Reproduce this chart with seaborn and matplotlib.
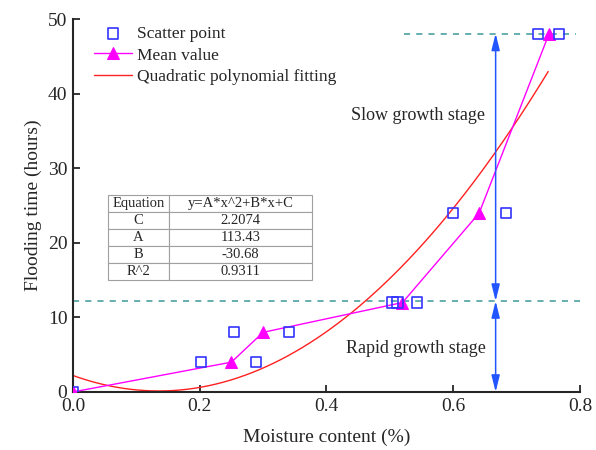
import numpy as np
import pandas as pd
import seaborn as sns
import matplotlib.pyplot as plt

# scatter points
scatter_x = [0.0, 0.202, 0.254, 0.289, 0.341, 0.504, 0.512, 0.543, 0.600, 0.683, 0.734, 0.767]
scatter_y = [0, 4, 8, 4, 8, 12, 12, 12, 24, 24, 48, 48]

# mean values
mean_x = [0.0, 0.250, 0.300, 0.520, 0.641, 0.751]
mean_y = [0, 4, 8, 12, 24, 48]

# quadratic fit coefficients (from the table in the chart)
coef_A = 113.43
coef_B = -30.68
coef_C = 2.2074
r_squared = 0.9311
fit_range = (0.0, 0.75)

table_rows = [["Equation", "y=A*x^2+B*x+C"],
              ["C", "2.2074"],
              ["A", "113.43"],
              ["B", "-30.68"],
              ["R^2", "0.9311"]]

# stage boundaries
slow_level = 48.1
rapid_level = 12.2
arrow_x = 0.667

sns.set_style("ticks")
plt.rcParams["font.family"] = ["Liberation Serif", "DejaVu Serif"]

fig, ax = plt.subplots(figsize=(5.96, 4.5), dpi=100)
fig.subplots_adjust(left=0.1225, right=0.973, bottom=0.129, top=0.957)

df_sc = pd.DataFrame({"x": scatter_x, "y": scatter_y})
df_mean = pd.DataFrame({"x": mean_x, "y": mean_y})
fit_x = np.linspace(fit_range[0], fit_range[1], 200)
df_fit = pd.DataFrame({"x": fit_x, "y": coef_A * fit_x**2 + coef_B * fit_x + coef_C})

# dashed stage lines
ax.plot([0.0, 0.80], [rapid_level, rapid_level], ls=(0, (4, 4)), color="#3d9999", lw=1.1, zorder=1)
ax.plot([0.522, 0.794], [slow_level, slow_level], ls=(0, (4, 4)), color="#3d9999", lw=1.1, zorder=1)

sns.lineplot(data=df_fit, x="x", y="y", ax=ax, color="#ff2020", lw=1.0,
             label="Quadratic polynomial fitting", zorder=2)
sns.lineplot(data=df_mean, x="x", y="y", ax=ax, color="#ff00ff", lw=1.0, marker="^",
             markersize=9, markeredgecolor="#ff00ff", label="Mean value", zorder=3)
sns.scatterplot(data=df_sc, x="x", y="y", ax=ax, marker="s", s=55, facecolors="none",
                edgecolor="#3333ff", linewidth=1.2, label="Scatter point", zorder=4)

# double arrows
arrow_style = dict(arrowstyle="<|-|>,head_length=1.0,head_width=0.25", color="#2255ff",
                   lw=1.1, shrinkA=0, shrinkB=0)
ax.annotate("", xy=(arrow_x, slow_level), xytext=(arrow_x, rapid_level), arrowprops=arrow_style)
ax.annotate("", xy=(arrow_x, rapid_level), xytext=(arrow_x, 0), arrowprops=arrow_style)

ax.text(0.545, 37.1, "Slow growth stage", ha="center", va="center", fontsize=13)
ax.text(0.541, 5.8, "Rapid growth stage", ha="center", va="center", fontsize=13)

# coefficient table
tbl = ax.table(cellText=table_rows, cellLoc="center", colWidths=[0.3, 0.7],
               bbox=[0.069, 0.30, 0.402, 0.228])
tbl.auto_set_font_size(False)
tbl.set_fontsize(10.5)
for (r, c), cell in tbl.get_celld().items():
    cell.set_edgecolor("#a0a0a0")
    cell.set_linewidth(0.8)
    cell.set_facecolor("white")

ax.set_xlim(0, 0.8)
ax.set_ylim(0, 50)
ax.set_xticks([0.0, 0.2, 0.4, 0.6, 0.8])
ax.set_yticks([0, 10, 20, 30, 40, 50])
ax.set_xticklabels(["0.0", "0.2", "0.4", "0.6", "0.8"])
ax.tick_params(direction="in", length=5, width=1.3, labelsize=14, pad=4)
ax.set_xlabel("Moisture content (%)", fontsize=14, labelpad=10)
ax.set_ylabel("Flooding time (hours)", fontsize=14, labelpad=4)
sns.despine(ax=ax)
for sp in ["left", "bottom"]:
    ax.spines[sp].set_linewidth(1.5)

handles, labels = ax.get_legend_handles_labels()
order = [labels.index("Scatter point"), labels.index("Mean value"),
         labels.index("Quadratic polynomial fitting")]
ax.legend([handles[i] for i in order], [labels[i] for i in order], loc="upper left",
          frameon=False, fontsize=12.5, handlelength=2.2, borderaxespad=0.2,
          bbox_to_anchor=(0.02, 1.01), labelspacing=0.3, handletextpad=0.3)

fig.savefig("out.png", dpi=100)
